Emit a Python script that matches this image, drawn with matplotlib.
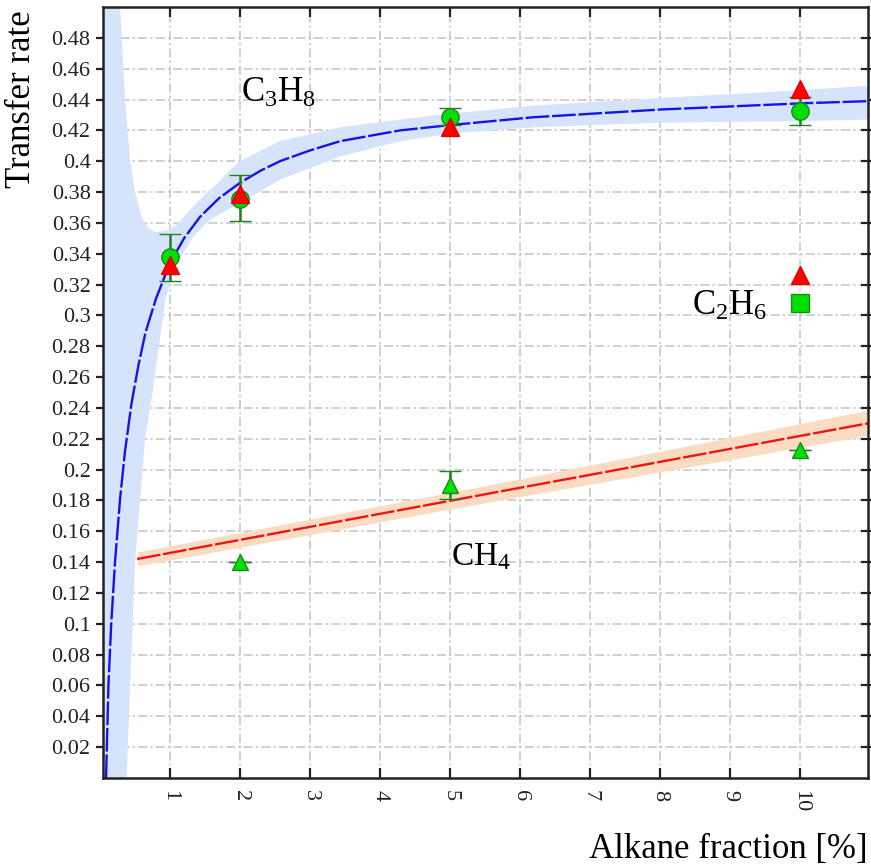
import matplotlib
matplotlib.use("Agg")
import matplotlib.pyplot as plt
import numpy as np

plt.rcParams['font.family'] = ['Liberation Serif', 'DejaVu Serif']
plt.rcParams['mathtext.fontset'] = 'custom'
plt.rcParams['mathtext.rm'] = 'Liberation Serif'
plt.rcParams['mathtext.it'] = 'Liberation Serif:italic'
plt.rcParams['mathtext.bf'] = 'Liberation Serif:bold'

# C3H8 measurements (green circles with error bars, red triangles)
c3h8_x = [1, 2, 5, 10]
c3h8_y = [0.338, 0.3756, 0.4289, 0.4325]
c3h8_lo = [0.322, 0.361, 0.4233, 0.4234]
c3h8_hi = [0.353, 0.3913, 0.4344, 0.4416]
c3h8_red = [0.3325, 0.3787, 0.4224, 0.4466]

# C2H6 at 10 %
c2h6_x = [10]
c2h6_y = [0.308]
c2h6_red = [0.326]

# CH4 (green triangles)
ch4_x = [2, 5, 10]
ch4_y = [0.140, 0.190, 0.2125]
ch4_lo = [0.140, 0.181, 0.2125]
ch4_hi = [0.140, 0.199, 0.2125]

# fitted C3H8 curve
fit_x = [0.086, 0.12, 0.16, 0.214, 0.286, 0.357, 0.45, 0.55, 0.65, 0.8, 1.0, 1.2,
         1.43, 1.7, 2.0, 2.3, 2.57, 3.0, 3.43, 4.29, 5.02, 6.19, 8.0, 10.0, 11.0]
fit_y = [0.0, 0.06, 0.10, 0.14, 0.181, 0.212, 0.243, 0.268, 0.289, 0.311, 0.334, 0.350,
         0.364, 0.376, 0.386, 0.394, 0.400, 0.407, 0.413, 0.420, 0.4235, 0.4285, 0.4335,
         0.4375, 0.4390]

# confidence band edges
band_up_x = [0.0, 0.286, 0.357, 0.43, 0.5, 0.595, 0.68, 0.79, 0.95, 1.1, 1.4, 1.71,
             1.85, 2.0, 2.57, 3.43, 4.29, 5.02, 6.19, 8.0, 10.0, 11.0]
band_up_y = [0.55, 0.50, 0.44, 0.40, 0.38, 0.364, 0.357, 0.354, 0.355, 0.359, 0.374, 0.387,
             0.394, 0.400, 0.413, 0.422, 0.427, 0.431, 0.436, 0.441, 0.446, 0.449]
band_lo_x = [0.0, 0.37, 0.5, 0.643, 0.75, 0.93, 1.07, 1.33, 1.57, 2.0, 2.57, 3.43,
             4.29, 5.02, 6.19, 8.0, 10.0, 11.0]
band_lo_y = [-0.05, -0.01, 0.14, 0.22, 0.25, 0.31, 0.331, 0.351, 0.362, 0.373, 0.388, 0.403,
             0.413, 0.418, 0.422, 0.425, 0.426, 0.427]

# CH4 linear fit and band
lin_x = [0.53, 5.5, 10.97]
lin_y = [0.142, 0.184, 0.230]
lin_up = [0.1465, 0.1895, 0.2385]
lin_lo = [0.1375, 0.1785, 0.2222]

fig = plt.figure(figsize=(8.71, 8.65), dpi=100)
ax = fig.add_axes([0.1183, 0.1006, 0.8783, 0.8913])

ax.fill(np.concatenate([band_up_x, band_lo_x[::-1]]),
        np.concatenate([band_up_y, band_lo_y[::-1]]),
        color='#d5e3fb', lw=0, zorder=1)
ax.plot(fit_x, fit_y, color='#1414e8', lw=1.7, dashes=(10, 1.2), zorder=2)

ax.fill_between(lin_x, lin_lo, lin_up, color='#fbdcc3', lw=0, zorder=1)
ax.plot(lin_x, lin_y, color='#ee1414', lw=1.7, dashes=(10, 1.2), zorder=2)

c3h8_err = [np.subtract(c3h8_y, c3h8_lo), np.subtract(c3h8_hi, c3h8_y)]
ax.errorbar(c3h8_x, c3h8_y, yerr=c3h8_err, fmt='o', ms=12.5, mfc='#00e000', mec='#1a8a1a',
            mew=1, ecolor='#237f23', elinewidth=1.8, capsize=8, capthick=1.8, zorder=3)
ax.plot(c3h8_x, c3h8_red, '^', ms=12.5, color='#ff0000', mec='#e00000', zorder=4)

ax.plot(c2h6_x, c2h6_y, 's', ms=13, mfc='#00e000', mec='#1a8a1a', mew=1, zorder=3)
ax.plot(c2h6_x, c2h6_red, '^', ms=12.5, color='#ff0000', mec='#e00000', zorder=4)

ch4_err = [np.subtract(ch4_y, ch4_lo), np.subtract(ch4_hi, ch4_y)]
ax.errorbar(ch4_x, ch4_y, yerr=ch4_err, fmt='^', ms=11, mfc='#00e000', mec='#1a8a1a',
            mew=1, ecolor='#237f23', elinewidth=1.8, capsize=8, capthick=1.8, zorder=3)

ax.text(2.02, 0.4386, 'C$_3$H$_8$', fontsize=25, va='baseline', ha='left')
ax.text(8.45, 0.300, 'C$_2$H$_6$', fontsize=25, va='baseline', ha='left')
ax.text(5.01, 0.138, 'CH$_4$', fontsize=24, va='baseline', ha='left')

ax.set_xlim(0.043, 10.97)
ax.set_ylim(0, 0.5)
ax.set_xticks(range(1, 11))
ax.set_xticklabels([str(i) for i in range(1, 11)], rotation=-90)
yt = np.round(np.arange(0.02, 0.49, 0.02), 2)
ax.set_yticks(yt)
ax.set_yticklabels(['%g' % v for v in yt])

ax.grid(True, color='#c4c4c4', lw=1.1, linestyle=(0, (6, 2, 1.5, 2)))
ax.set_axisbelow(True)

ax.tick_params(axis='both', labelsize=16, colors='#222222', width=1.6)
ax.tick_params(axis='x', direction='in', length=7, pad=9, top=True)
ax.tick_params(axis='y', direction='inout', length=10, pad=4, right=True)
for s in ax.spines.values():
    s.set_linewidth(1.8)
    s.set_color('#222222')

ax.set_xlabel('Alkane fraction [%]', fontsize=25, loc='right')
ax.xaxis.set_label_coords(1.0, -0.072)
ax.set_ylabel('Transfer rate', fontsize=25, loc='top')
ax.yaxis.set_label_coords(-0.085, 0.996)

fig.savefig('out.png', dpi=100)
